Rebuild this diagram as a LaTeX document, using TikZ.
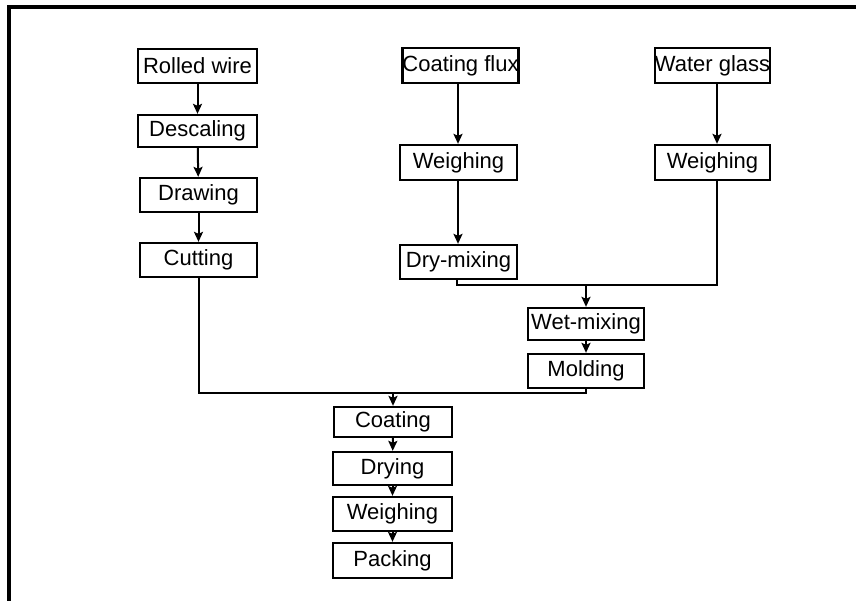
\documentclass[tikz,border=0pt]{standalone}
\usepackage{fontspec}
\setmainfont{Liberation Sans}
\usetikzlibrary{arrows.meta}
\begin{document}
\begin{tikzpicture}[x=1pt,y=-1pt,
  stepbox/.style={draw, line width=2.3pt, inner sep=0pt, font=\fontsize{22}{25}\selectfont},
  conn/.style={line width=2pt},
  arr/.style={conn, -{Stealth[length=10pt,width=9pt,inset=2pt]}},
  frameline/.style={line width=3.5pt}]
\useasboundingbox (0,0) rectangle (856,601);
\draw[frameline] (856,7) coordinate (fr1) -- (9,7) coordinate (fr2) -- (9,601) coordinate (fr3);
% left column
\node[stepbox, minimum width=119pt, minimum height=34pt] (rw) at (197.5,66) {Rolled wire};
\node[stepbox, minimum width=119pt, minimum height=32pt] (desc) at (197.5,131) {Descaling};
\node[stepbox, minimum width=117pt, minimum height=34pt] (drw) at (198.5,195) {Drawing};
\node[stepbox, minimum width=117pt, minimum height=34pt] (cut) at (198.5,260) {Cutting};
% middle column
\node[stepbox, minimum width=115pt, minimum height=35pt] (cf) at (460.5,65.5) {Coating flux};
\node[stepbox, minimum width=117pt, minimum height=35pt] (wl) at (458.5,162.5) {Weighing};
\node[stepbox, minimum width=117pt, minimum height=34pt] (dm) at (458.5,262) {Dry-mixing};
% right column
\node[stepbox, minimum width=115pt, minimum height=35pt] (wg) at (712.5,65.5) {Water glass};
\node[stepbox, minimum width=115pt, minimum height=35pt] (wr) at (712.5,162.5) {Weighing};
% mixing
\node[stepbox, minimum width=116pt, minimum height=32pt] (wet) at (586,324) {Wet-mixing};
\node[stepbox, minimum width=116pt, minimum height=34pt] (mold) at (586,371) {Molding};
% bottom column
\node[stepbox, minimum width=118pt, minimum height=30pt] (coat) at (393,422) {Coating};
\node[stepbox, minimum width=119pt, minimum height=33pt] (dry) at (392.5,468.5) {Drying};
\node[stepbox, minimum width=119pt, minimum height=34pt] (wgh) at (392.5,514) {Weighing};
\node[stepbox, minimum width=119pt, minimum height=35pt] (pack) at (392.5,560.5) {Packing};
% connectors
\draw[arr] (rw) -- (desc);
\draw[arr] (desc) -- (drw);
\draw[arr] (drw) -- (cut);
\draw[arr] (cf.south -| 458,0) -- (wl.north -| 458,0);
\draw[arr] (wl.south -| 458,0) -- (dm.north -| 458,0);
\draw[arr] (wg.south -| 717,0) -- (wr.north -| 717,0);
\coordinate (j1) at (586,285);
\draw[conn] (dm.south -| 457,0) |- (j1) -| (wr.south -| 717,0);
\draw[arr] (j1) -- (wet);
\draw[arr] (wet) -- (mold);
\coordinate (j2) at (393,393);
\draw[conn] (cut.south) |- (j2) -| (mold.south);
\draw[arr] (j2) -- (coat);
\draw[arr] (coat) -- (dry);
\draw[arr] (dry) -- (wgh);
\draw[arr] (wgh) -- (pack);
\end{tikzpicture}
\end{document}
